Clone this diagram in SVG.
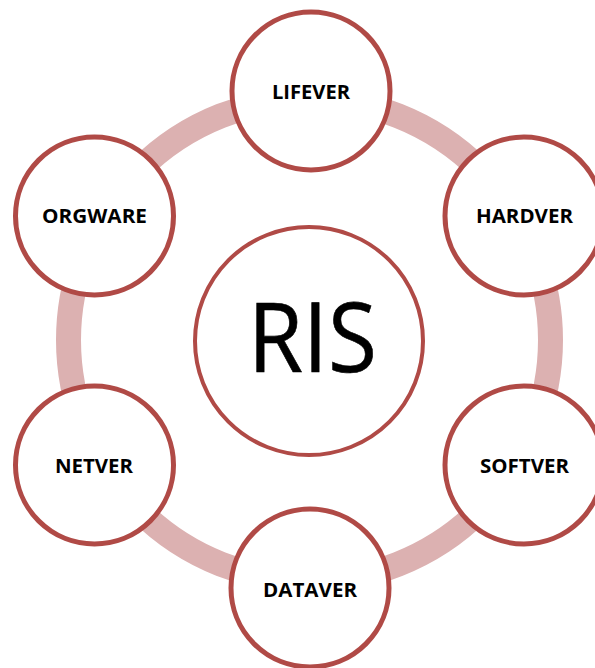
<svg xmlns="http://www.w3.org/2000/svg" width="595" height="668" viewBox="0 0 595 668">
<style>
.node{fill:#ffffff;stroke:#b04a46;stroke-width:5}
.center{fill:#ffffff;stroke:#b04a46;stroke-width:4}
.lbl{font-family:"Open Sans","Liberation Sans",sans-serif;font-weight:bold;font-size:20px;fill:#000000;text-anchor:middle}
.big{font-family:"Open Sans","Liberation Sans",sans-serif;font-size:97px;fill:#000000;text-anchor:middle;stroke:#000000;stroke-width:0.6}
</style>
<rect width="595" height="668" fill="#ffffff"/>
<g id="connectors">
<circle cx="309.5" cy="340" r="241" fill="none" stroke="#dcb1b1" stroke-width="25"/>
</g>
<g id="RIS">
<circle class="center" cx="309" cy="341" r="114"/>
<text class="big" x="312.5" y="372" textLength="129" lengthAdjust="spacingAndGlyphs">RIS</text>
</g>
<g id="LIFEVER">
<circle class="node" cx="311" cy="91" r="79"/>
<text class="lbl" x="311" y="99" textLength="78" lengthAdjust="spacingAndGlyphs">LIFEVER</text>
</g>
<g id="HARDVER">
<circle class="node" cx="524" cy="216" r="79"/>
<text class="lbl" x="524.5" y="223" textLength="97" lengthAdjust="spacingAndGlyphs">HARDVER</text>
</g>
<g id="SOFTVER">
<circle class="node" cx="524" cy="465" r="79"/>
<text class="lbl" x="524.5" y="473" textLength="89" lengthAdjust="spacingAndGlyphs">SOFTVER</text>
</g>
<g id="DATAVER">
<circle class="node" cx="310" cy="588" r="79"/>
<text class="lbl" x="310" y="597" textLength="94" lengthAdjust="spacingAndGlyphs">DATAVER</text>
</g>
<g id="NETVER">
<circle class="node" cx="94.5" cy="465" r="79"/>
<text class="lbl" x="94" y="473" textLength="78" lengthAdjust="spacingAndGlyphs">NETVER</text>
</g>
<g id="ORGWARE">
<circle class="node" cx="94.5" cy="216" r="79"/>
<text class="lbl" x="94.5" y="223" textLength="105" lengthAdjust="spacingAndGlyphs">ORGWARE</text>
</g>
</svg>
